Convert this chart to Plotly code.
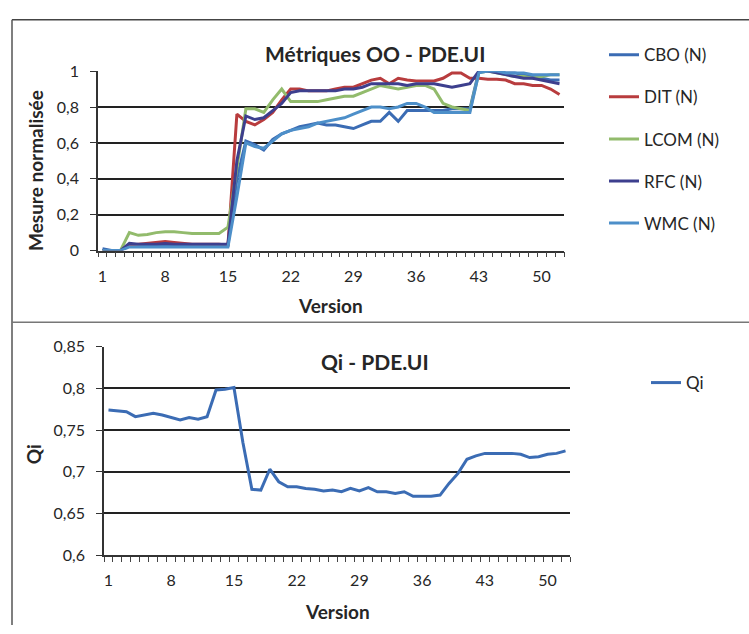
import plotly.graph_objects as go

versions = list(range(1, 53))

cbo = [0.01, 0.0, 0.0, 0.03, 0.025, 0.025, 0.03, 0.03, 0.03, 0.03, 0.03, 0.03, 0.03, 0.03, 0.03,
       0.40, 0.61, 0.59, 0.56, 0.62, 0.65, 0.67, 0.69, 0.70, 0.71, 0.70, 0.70, 0.69, 0.68, 0.70,
       0.72, 0.72, 0.77, 0.72, 0.78, 0.78, 0.78, 0.78, 0.78, 0.79, 0.79, 0.79, 1.0, 1.0, 1.0,
       0.99, 0.99, 0.98, 0.97, 0.96, 0.95, 0.95]
dit = [0.0, 0.0, 0.0, 0.03, 0.035, 0.04, 0.045, 0.05, 0.045, 0.04, 0.035, 0.035, 0.035, 0.035, 0.03,
       0.76, 0.72, 0.70, 0.73, 0.77, 0.84, 0.90, 0.90, 0.89, 0.89, 0.89, 0.90, 0.91, 0.91, 0.93,
       0.95, 0.96, 0.93, 0.96, 0.95, 0.945, 0.945, 0.945, 0.96, 0.99, 0.99, 0.96, 0.96, 0.955, 0.955,
       0.95, 0.93, 0.93, 0.92, 0.92, 0.90, 0.87]
lcom = [0.0, 0.0, 0.0, 0.10, 0.085, 0.09, 0.10, 0.105, 0.105, 0.10, 0.095, 0.095, 0.095, 0.095, 0.13,
        0.47, 0.79, 0.79, 0.77, 0.84, 0.90, 0.83, 0.83, 0.83, 0.83, 0.84, 0.85, 0.86, 0.86, 0.88,
        0.90, 0.92, 0.91, 0.90, 0.91, 0.92, 0.92, 0.90, 0.82, 0.80, 0.79, 0.78, 0.99, 1.0, 0.99,
        0.98, 0.97, 0.97, 0.96, 0.97, 0.98, 0.98]
rfc = [0.0, 0.0, 0.0, 0.04, 0.035, 0.035, 0.035, 0.04, 0.035, 0.035, 0.035, 0.035, 0.035, 0.035, 0.035,
       0.50, 0.75, 0.73, 0.74, 0.78, 0.82, 0.88, 0.89, 0.89, 0.89, 0.89, 0.89, 0.90, 0.90, 0.91,
       0.93, 0.93, 0.93, 0.93, 0.92, 0.93, 0.93, 0.93, 0.92, 0.91, 0.92, 0.93, 1.0, 1.0, 0.99,
       0.98, 0.97, 0.96, 0.96, 0.95, 0.94, 0.93]
wmc = [0.0, 0.0, 0.0, 0.02, 0.02, 0.02, 0.02, 0.02, 0.02, 0.02, 0.02, 0.02, 0.02, 0.02, 0.02,
       0.30, 0.60, 0.58, 0.57, 0.61, 0.65, 0.67, 0.68, 0.69, 0.71, 0.72, 0.73, 0.74, 0.76, 0.78,
       0.80, 0.80, 0.79, 0.80, 0.82, 0.82, 0.80, 0.77, 0.77, 0.77, 0.77, 0.77, 0.99, 1.0, 1.0,
       0.99, 0.99, 0.99, 0.98, 0.98, 0.98, 0.98]
qi = [0.774, 0.773, 0.772, 0.766, 0.768, 0.770, 0.768, 0.765, 0.762, 0.765, 0.763, 0.766, 0.798, 0.799, 0.801,
      0.735, 0.679, 0.678, 0.703, 0.688, 0.682, 0.682, 0.680, 0.679, 0.677, 0.678, 0.676, 0.680, 0.677, 0.681,
      0.676, 0.676, 0.674, 0.676, 0.6705, 0.6705, 0.6705, 0.672, 0.686, 0.698, 0.715, 0.719, 0.722, 0.722, 0.722,
      0.722, 0.721, 0.717, 0.718, 0.721, 0.722, 0.725]

top_names = ["CBO (N)", "DIT (N)", "LCOM (N)", "RFC (N)", "WMC (N)"]
top_series = [cbo, dit, lcom, rfc, wmc]
top_colors = ["#3b6cb4", "#b83c3e", "#92bb6c", "#3d3f8e", "#4d8fc9"]

x_ticks = [1, 8, 15, 22, 29, 36, 43, 50]
y1_ticks = [0, 0.2, 0.4, 0.6, 0.8, 1.0]
y1_text = ["0", "0,2", "0,4", "0,6", "0,8", "1"]
y2_ticks = [0.6, 0.65, 0.7, 0.75, 0.8, 0.85]
y2_text = ["0,6", "0,65", "0,7", "0,75", "0,8", "0,85"]

W, H = 749, 634
FONT = "Lato"
TXT = "#262626"

def px(x):
    return x / W

def py(y):
    return 1 - y / H

fig = go.Figure()
for i, (name, ys, col) in enumerate(zip(top_names, top_series, top_colors)):
    fig.add_trace(go.Scatter(x=versions, y=ys, mode="lines", name=name,
                             line=dict(color=col, width=3), xaxis="x", yaxis="y",
                             legend="legend", legendgroup=name))
fig.add_trace(go.Scatter(x=versions, y=qi, mode="lines", name="Qi",
                         line=dict(color="#3b6cb4", width=3), xaxis="x2", yaxis="y2",
                         legend="legend2"))

axis_common = dict(showline=True, linecolor="#333", linewidth=1.5, mirror=False,
                   tickfont=dict(family=FONT, size=16, color=TXT), zeroline=False)

fig.update_layout(
    width=W, height=H, margin=dict(l=0, r=0, t=0, b=0),
    paper_bgcolor="white", plot_bgcolor="white",
    font=dict(family=FONT, color=TXT),
    xaxis=dict(domain=[px(98), px(564)], range=[0.5, 52.5], anchor="y",
               tickmode="array", tickvals=x_ticks, ticks="", ticklabelstandoff=10,
               showgrid=False,
               minor=dict(ticks="outside", tick0=0.5, dtick=1, ticklen=5, tickcolor="#444", showgrid=False),
               **axis_common),
    yaxis=dict(domain=[py(248), py(63)], range=[0, 1], anchor="x",
               tickmode="array", tickvals=y1_ticks, ticktext=y1_text,
               ticks="outside", ticklen=6, tickcolor="#333", ticklabelstandoff=8,
               showgrid=True, gridcolor="#222", gridwidth=1.5, **axis_common),
    xaxis2=dict(domain=[px(104), px(570)], range=[0.5, 52.5], anchor="y2",
                tickmode="array", tickvals=x_ticks, ticks="", ticklabelstandoff=10,
                showgrid=False,
                minor=dict(ticks="outside", tick0=0.5, dtick=1, ticklen=5, tickcolor="#444", showgrid=False),
                **axis_common),
    yaxis2=dict(domain=[py(562), py(347)], range=[0.6, 0.85], anchor="x2",
                tickmode="array", tickvals=y2_ticks, ticktext=y2_text,
                ticks="outside", ticklen=6, tickcolor="#333", ticklabelstandoff=8,
                showgrid=True, gridcolor="#222", gridwidth=1.5, **axis_common),
    legend=dict(x=px(604), y=py(28), xanchor="left", yanchor="top",
                font=dict(family=FONT, size=17, color=TXT), bgcolor="rgba(0,0,0,0)",
                traceorder="grouped", tracegroupgap=17, itemwidth=30),
    legend2=dict(x=px(646), y=py(366), xanchor="left", yanchor="top",
                 font=dict(family=FONT, size=17, color=TXT), bgcolor="rgba(0,0,0,0)"),
    showlegend=True,
)

annotations = [
    dict(text="<b>Métriques OO - PDE.UI</b>", x=px(375), y=py(45), font=dict(size=21)),
    dict(text="<b>Qi - PDE.UI</b>", x=px(375), y=py(362), font=dict(size=21)),
    dict(text="<b>Mesure normalisée</b>", x=px(35), y=py(166), textangle=-90, font=dict(size=19)),
    dict(text="<b>Qi</b>", x=px(33), y=py(458), textangle=-90, font=dict(size=19)),
    dict(text="<b>Version</b>", x=px(330), y=py(305), font=dict(size=19)),
    dict(text="<b>Version</b>", x=px(337), y=py(620), font=dict(size=19)),
]
for a in annotations:
    a.update(xref="paper", yref="paper", showarrow=False, xanchor="center", yanchor="middle")
    a["font"].update(family=FONT, color=TXT)
fig.update_layout(annotations=annotations)

frame = [
    dict(x0=px(12), x1=px(749), y0=py(10), y1=py(10), line=dict(color="#444", width=1.5)),
    dict(x0=px(12), x1=px(12), y0=py(10), y1=py(634), line=dict(color="#555", width=1.5)),
    dict(x0=px(12), x1=px(749), y0=py(322), y1=py(322), line=dict(color="#777", width=1.5)),
]
for s in frame:
    s.update(type="line", xref="paper", yref="paper")
fig.update_layout(shapes=frame)

fig.write_html("out.html")
